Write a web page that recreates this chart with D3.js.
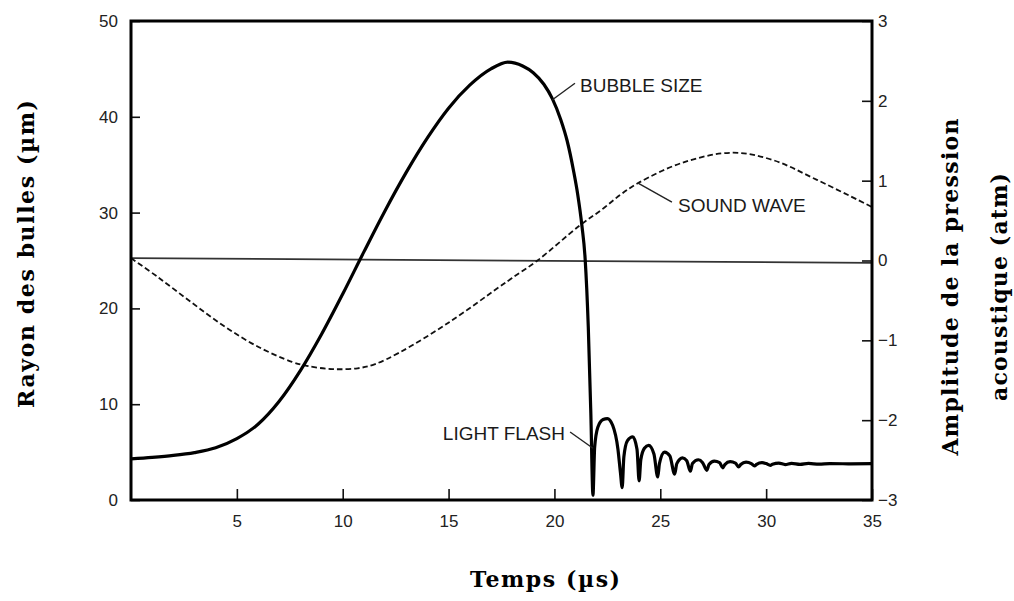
<!DOCTYPE html>
<html>
<head>
<meta charset="utf-8">
<script src="https://cdn.jsdelivr.net/npm/d3@7/dist/d3.min.js"></script>
<style>
  html, body { margin: 0; padding: 0; background: #fff; }
  svg { display: block; }
</style>
</head>
<body>
<svg id="chart" width="1014" height="601"></svg>
<script>
// ---------- data ----------
// Bubble radius (µm) vs time (µs)
const bubbleTime = [0, 1, 2, 3, 4, 5, 6, 7, 8, 9, 10, 11, 12, 13, 14, 15, 16, 17, 17.8, 18.5, 19.0, 19.5, 19.9, 20.3, 20.6, 20.9, 21.1, 21.3, 21.45, 21.6, 21.72, 21.82,
  21.9, 22.05, 22.3, 22.5, 22.75, 23.0, 23.12, 23.2,
  23.28, 23.45, 23.7, 23.9, 24.0,
  24.08, 24.25, 24.45, 24.7, 24.88,
  24.96, 25.2, 25.45, 25.68,
  25.78, 26.05, 26.25, 26.42,
  26.52, 26.8, 27.0, 27.2,
  27.3, 27.55, 27.8, 27.95,
  28.05, 28.3, 28.55, 28.7,
  28.8, 29.05, 29.3, 29.45,
  29.55, 29.8, 30.0, 30.2,
  30.3, 30.6, 30.9, 31.2, 31.6, 32.0, 32.5, 33.0, 34.0, 35.0];
const bubbleRadius = [4.3, 4.45, 4.65, 4.95, 5.45, 6.4, 7.9, 10.3, 13.5, 17.3, 21.5, 25.9, 30.2, 34.2, 37.8, 40.9, 43.3, 45.0, 45.7, 45.3, 44.6, 43.4, 41.9, 39.7, 37.5, 34.4, 31.9, 28.6, 25.2, 18.0, 9.0, 0.5,
  5.5, 7.6, 8.4, 8.5, 7.8, 5.3, 2.8, 1.3,
  4.5, 6.2, 6.6, 5.3, 2.0,
  4.2, 5.4, 5.7, 4.8, 2.4,
  3.8, 5.0, 4.6, 2.7,
  3.8, 4.4, 4.1, 3.0,
  3.8, 4.2, 3.9, 3.1,
  3.7, 4.05, 3.9, 3.35,
  3.7, 4.0, 3.85, 3.45,
  3.7, 3.95, 3.8, 3.55,
  3.72, 3.9, 3.8, 3.62,
  3.74, 3.85, 3.7, 3.82, 3.72, 3.82, 3.74, 3.8, 3.78, 3.8];

// Acoustic pressure amplitude (atm) vs time (µs)
const waveTime = [0, 1.28, 2.88, 4.44, 6.0, 7.6, 8.3, 9.5, 10.7, 11.5, 12.7, 15.05, 17.4, 18.0, 19.2, 21.2, 22.2, 23.1, 23.95, 26.1, 28.4, 30.3, 32.4, 35.0];
const wavePressure = [0.03, -0.21, -0.53, -0.83, -1.08, -1.27, -1.32, -1.36, -1.35, -1.30, -1.15, -0.77, -0.33, -0.22, 0.0, 0.44, 0.63, 0.82, 0.97, 1.23, 1.35, 1.26, 1.01, 0.67];

// Zero-pressure reference line (slightly tilted in the reference)
const zeroLineTime = [0, 35];
const zeroLinePressure = [0.03, -0.03];

// Ticks
const xTicks = [5, 10, 15, 20, 25, 30, 35];
const leftTicks = [0, 10, 20, 30, 40, 50];
const rightTicks = [-3, -2, -1, 0, 1, 2, 3];

// Annotations
const annoLabels = ["BUBBLE SIZE", "SOUND WAVE", "LIGHT FLASH"];
const annoAxis = ["left", "right", "left"];
const annoFrom = [[19.89, 41.75], [23.95, 0.97], [21.82, 5.4]];
const annoTo = [[20.97, 43.5], [25.55, 0.73], [20.74, 7.1]];
const annoText = [[21.21, 42.6], [25.84, 0.61], [20.5, 6.26]];
const annoAnchor = ["start", "start", "end"];

// Titles
const xTitle = "Temps (µs)";
const leftTitle = "Rayon des bulles (µm)";
const rightTitle = ["Amplitude de la pression", "acoustique (atm)"];

// ---------- layout ----------
const W = 1014, H = 601;
const margin = { left: 131, right: 142, top: 21, bottom: 101 };
const svg = d3.select("#chart");

const x = d3.scaleLinear().domain([0, 35]).range([margin.left, W - margin.right]);
const yL = d3.scaleLinear().domain([0, 50]).range([H - margin.bottom, margin.top]);
const yR = d3.scaleLinear().domain([-3, 3]).range([H - margin.bottom, margin.top]);

const tickFont = "'Liberation Sans', Arial, Helvetica, sans-serif";
const titleFont = "'DejaVu Serif', 'Liberation Serif', serif";
const fmtMinus = d => (d < 0 ? "\u2212" + Math.abs(d) : String(d));

// axes
const gx = svg.append("g").attr("transform", `translate(0,${yL(0)})`)
  .call(d3.axisBottom(x).tickValues(xTicks).tickSize(-11).tickPadding(15).tickFormat(d3.format("d")));
const gl = svg.append("g").attr("transform", `translate(${x(0)},0)`)
  .call(d3.axisLeft(yL).tickValues(leftTicks).tickSize(-9).tickPadding(13).tickFormat(d3.format("d")));
const gr = svg.append("g").attr("transform", `translate(${x(35)},0)`)
  .call(d3.axisRight(yR).tickValues(rightTicks).tickSize(-10).tickPadding(6).tickFormat(fmtMinus));

[gx, gl, gr].forEach(g => {
  g.select(".domain").remove();
  g.selectAll(".tick line").attr("stroke", "#111").attr("stroke-width", 1.6);
  g.selectAll(".tick text").attr("font-family", tickFont).attr("font-size", 17).attr("fill", "#222");
});

// zero-pressure line
const zeroData = zeroLineTime.map((t, i) => [t, zeroLinePressure[i]]);
svg.append("path")
  .datum(zeroData)
  .attr("fill", "none").attr("stroke", "#333").attr("stroke-width", 1.7)
  .attr("d", d3.line().x(d => x(d[0])).y(d => yR(d[1])));

// sound wave (dashed)
const waveData = waveTime.map((t, i) => [t, wavePressure[i]]);
svg.append("path")
  .datum(waveData)
  .attr("fill", "none").attr("stroke", "#111").attr("stroke-width", 1.8)
  .attr("stroke-dasharray", "5.5,3")
  .attr("d", d3.line().curve(d3.curveCatmullRom.alpha(0.5)).x(d => x(d[0])).y(d => yR(d[1])));

// bubble radius (thick)
const bubbleData = bubbleTime.map((t, i) => [t, bubbleRadius[i]]);
svg.append("path")
  .datum(bubbleData)
  .attr("fill", "none").attr("stroke", "#000").attr("stroke-width", 3.2)
  .attr("stroke-linejoin", "round")
  .attr("d", d3.line().curve(d3.curveMonotoneX).x(d => x(d[0])).y(d => yL(d[1])));

// frame
svg.append("rect")
  .attr("x", x(0)).attr("y", yL(50))
  .attr("width", x(35) - x(0)).attr("height", yL(0) - yL(50))
  .attr("fill", "none").attr("stroke", "#000").attr("stroke-width", 3);

// annotations
annoLabels.forEach((lab, i) => {
  const ys = annoAxis[i] === "left" ? yL : yR;
  svg.append("line")
    .attr("x1", x(annoFrom[i][0])).attr("y1", ys(annoFrom[i][1]))
    .attr("x2", x(annoTo[i][0])).attr("y2", ys(annoTo[i][1]))
    .attr("stroke", "#222").attr("stroke-width", 1.4);
  svg.append("text")
    .attr("x", x(annoText[i][0])).attr("y", ys(annoText[i][1]))
    .attr("text-anchor", annoAnchor[i])
    .attr("font-family", tickFont).attr("font-size", 19).attr("fill", "#1a1a1a")
    .text(lab);
});

// titles
svg.append("text")
  .attr("x", 545).attr("y", 587)
  .attr("text-anchor", "middle")
  .attr("font-family", titleFont).attr("font-weight", "bold").attr("font-size", 22)
  .attr("textLength", 150).attr("lengthAdjust", "spacing")
  .text(xTitle);

svg.append("text")
  .attr("transform", "translate(34,254) rotate(-90)")
  .attr("text-anchor", "middle")
  .attr("font-family", titleFont).attr("font-weight", "bold").attr("font-size", 22)
  .attr("textLength", 308).attr("lengthAdjust", "spacing")
  .text(leftTitle);

const rtX = [958, 1007];
const rtLen = [337, 228];
rightTitle.forEach((s, i) => {
  svg.append("text")
    .attr("transform", `translate(${rtX[i]},287) rotate(-90)`)
    .attr("text-anchor", "middle")
    .attr("font-family", titleFont).attr("font-weight", "bold").attr("font-size", 22)
    .attr("textLength", rtLen[i]).attr("lengthAdjust", "spacing")
    .text(s);
});
</script>
</body>
</html>
